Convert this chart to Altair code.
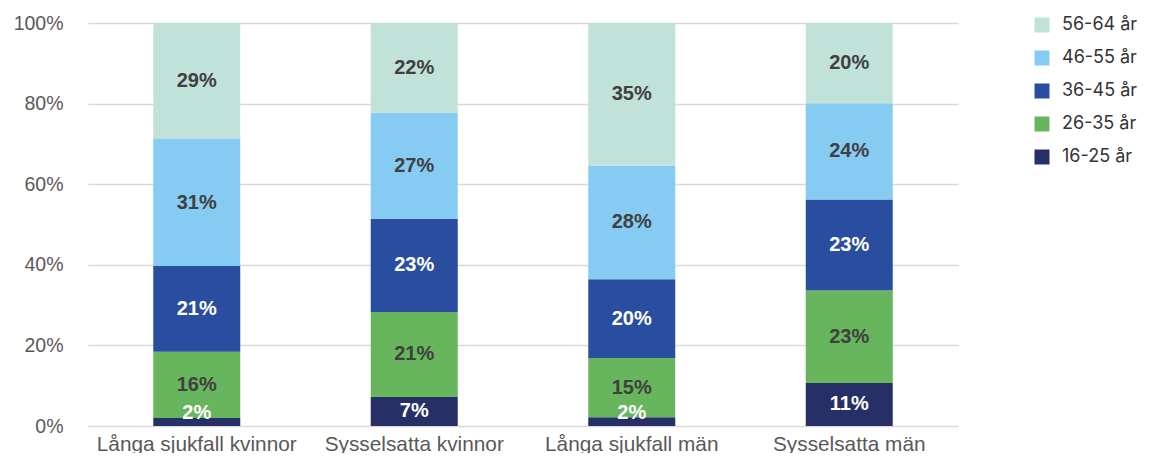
import altair as alt
import pandas as pd

categories = ["Långa sjukfall kvinnor", "Sysselsatta kvinnor", "Långa sjukfall män", "Sysselsatta män"]
groups = ["16-25 år", "26-35 år", "36-45 år", "46-55 år", "56-64 år"]
colors = ["#262F66", "#67B55D", "#2A4E9F", "#86CBF2", "#C0E2D9"]
text_colors = ["#FFFFFF", "#404040", "#FFFFFF", "#404040", "#404040"]

v_16_25 = [2.0, 7.2, 2.2, 10.7]
v_26_35 = [16.4, 21.1, 14.7, 22.9]
v_36_45 = [21.3, 23.1, 19.5, 22.6]
v_46_55 = [31.5, 26.3, 28.2, 23.9]
v_56_64 = [28.8, 22.3, 35.4, 19.9]
labels = [
    ["2%", "7%", "2%", "11%"],
    ["16%", "21%", "15%", "23%"],
    ["21%", "23%", "20%", "23%"],
    ["31%", "27%", "28%", "24%"],
    ["29%", "22%", "35%", "20%"],
]

series = [v_16_25, v_26_35, v_36_45, v_46_55, v_56_64]
rows = []
for ci, cat in enumerate(categories):
    cum = 0.0
    for gi, g in enumerate(groups):
        v = series[gi][ci]
        mid = cum + v / 2
        cum += v
        rows.append({
            "cat": cat, "group": g, "idx": gi, "value": v,
            "pos": max(mid, 3.2), "label": labels[gi][ci], "tc": text_colors[gi],
        })
df = pd.DataFrame(rows)

legend_order = groups[::-1]
legend_colors = colors[::-1]

x_enc = alt.X("cat:N", sort=categories, title=None,
              scale=alt.Scale(paddingInner=0.6, paddingOuter=0.3),
              axis=alt.Axis(labelAngle=0, domain=False, ticks=False, labelPadding=8,
                            labelLimit=400, labelFontSize=20.8, labelColor="#595959",
                            labelFont="Liberation Sans"))

bars = alt.Chart(df).mark_bar().encode(
    x=x_enc,
    y=alt.Y("value:Q", stack="zero", title=None,
            scale=alt.Scale(domain=[0, 100], nice=False),
            axis=alt.Axis(values=[0, 20, 40, 60, 80, 100], labelExpr="datum.value + '%'",
                          domain=False, ticks=False, labelPadding=25, labelFontSize=19.5,
                          labelColor="#595959", labelFont="Liberation Sans",
                          gridColor="#D9D9D9", gridWidth=1.5)),
    color=alt.Color("group:N", scale=alt.Scale(domain=legend_order, range=legend_colors),
                    legend=alt.Legend(title=None, orient="none", legendX=945, legendY=-7,
                                      symbolType="square", symbolSize=225, symbolStrokeWidth=0,
                                      labelFontSize=18, labelFont="Inter", labelColor="#333333",
                                      labelOffset=11, rowPadding=15, labelLimit=200)),
    order=alt.Order("idx:Q", sort="ascending"),
)

text = alt.Chart(df).mark_text(fontSize=20, fontWeight="bold", font="Liberation Sans").encode(
    x=alt.X("cat:N", sort=categories),
    y=alt.Y("pos:Q"),
    text="label:N",
    color=alt.Color("tc:N", scale=None),
)

chart = alt.layer(bars, text).properties(
    width=870, height=403,
    autosize=alt.AutoSizeParams(type="none"),
    padding={"left": 80, "top": 15, "right": 184, "bottom": 27},
).configure_view(stroke=None)

chart.save("out.html", embed_options={"renderer": "svg", "actions": False})
